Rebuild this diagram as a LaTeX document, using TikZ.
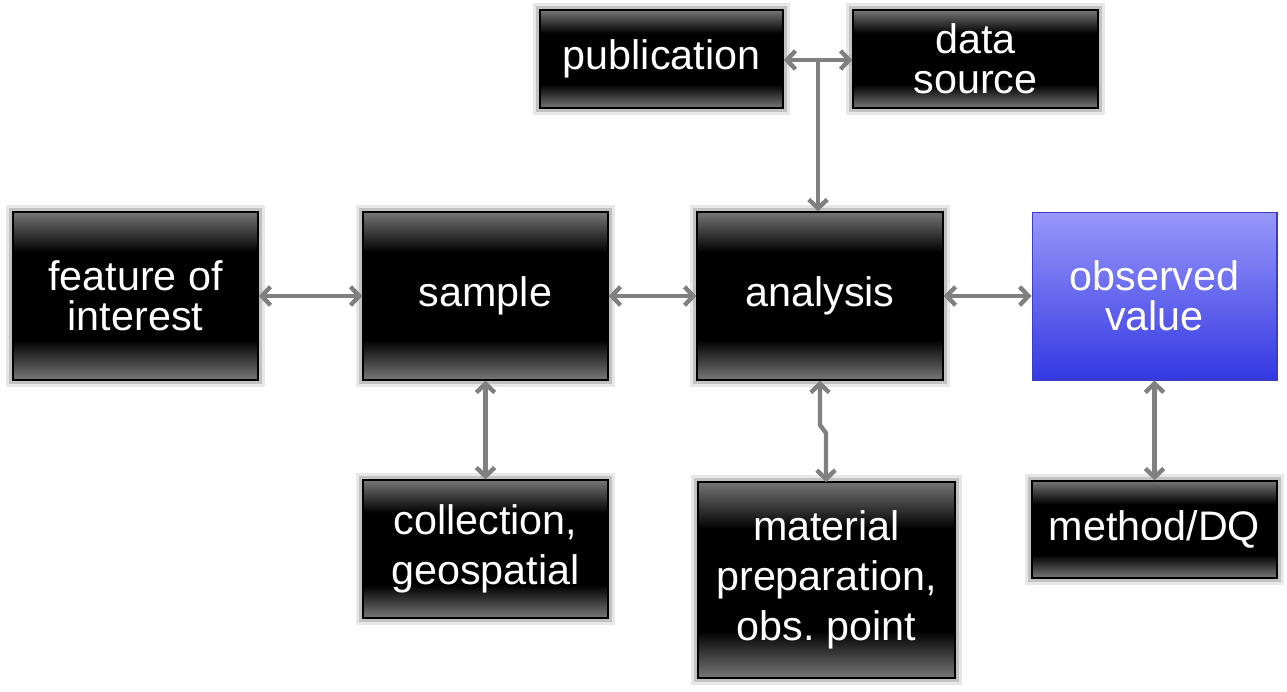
\documentclass[tikz,border=0pt]{standalone}
\usepackage{fontspec}
\setmainfont{Liberation Sans}
\usetikzlibrary{arrows.meta}
\frenchspacing
\definecolor{btop}{gray}{0.46}
\definecolor{bbot}{gray}{0.47}
\definecolor{vtop}{RGB}{152,152,250}
\definecolor{vbot}{RGB}{52,56,226}
\definecolor{vedge}{RGB}{60,60,200}
\definecolor{arr}{gray}{0.5}
\pgfdeclareverticalshading{blkshade}{100bp}{color(0bp)=(bbot); color(25bp)=(bbot); color(37bp)=(black); color(63bp)=(black); color(75bp)=(btop); color(100bp)=(btop)}
\begin{document}
\begin{tikzpicture}[x=0.02cm,y=-0.02cm,
  box/.style={rectangle, inner sep=0pt, text=white, align=center,
    font=\fontsize{23.5}{22.7}\selectfont},
  wide/.style={font=\fontsize{23.5}{28.3}\selectfont},
  blk/.style={box, shading=blkshade, draw=black, line width=0.8pt,
    preaction={draw=gray!60, line width=8pt, opacity=0.3},
    preaction={draw=gray!55, line width=4.5pt, opacity=0.8}},
  blu/.style={box, top color=vtop, bottom color=vbot, draw=vedge, line width=0.6pt},
  tipb/.tip={Straight Barb[length=5pt,width=10.5pt]},
  link/.style={draw=arr, line width=2.5pt, tipb-tipb},
  link1/.style={draw=arr, line width=2.5pt, -tipb}]
\useasboundingbox[fill=white] (0,0) rectangle (1287,691);

\node[blk, minimum width=4.9cm, minimum height=3.36cm] (foi) at (135.5,296) {feature of\\interest};
\node[blk, minimum width=4.9cm, minimum height=3.36cm] (sample) at (485.5,296) {sample};
\node[blk, minimum width=4.92cm, minimum height=3.36cm] (analysis) at (820,296) {analysis};
\node[blu, minimum width=4.9cm, minimum height=3.36cm] (obs) at (1154.5,296) {observed\\value};
\node[blk, minimum width=4.86cm, minimum height=1.96cm] (pub) at (661.5,59) {publication};
\node[blk, minimum width=4.9cm, minimum height=1.96cm] (data) at (975.5,59) {data\\source};
\node[blk, wide, minimum width=4.9cm, minimum height=2.76cm] (coll) at (485.5,549) {collection,\\geospatial};
\node[blk, wide, minimum width=5.14cm, minimum height=3.92cm] (mat) at (826.5,580) {material\\preparation,\\obs.\ point};
\node[blk, minimum width=4.9cm, minimum height=1.94cm] (meth) at (1154.5,529.5) {method/DQ};

\draw[link] (foi.east) -- (sample.west);
\draw[link] (sample.east) -- (analysis.west);
\draw[link] (analysis.east) -- (obs.west);
\coordinate (j) at (818,60);
\draw[link1] (j) -- (j |- analysis.north);
\draw[link] (pub.east |- j) -- (data.west |- j);
\draw[link] (sample.south) -- (coll.north);
\draw[link] (analysis.south) -- (820,425) -- (826,433) -- (826,482);
\draw[link] (obs.south) -- (meth.north);
\end{tikzpicture}
\end{document}
